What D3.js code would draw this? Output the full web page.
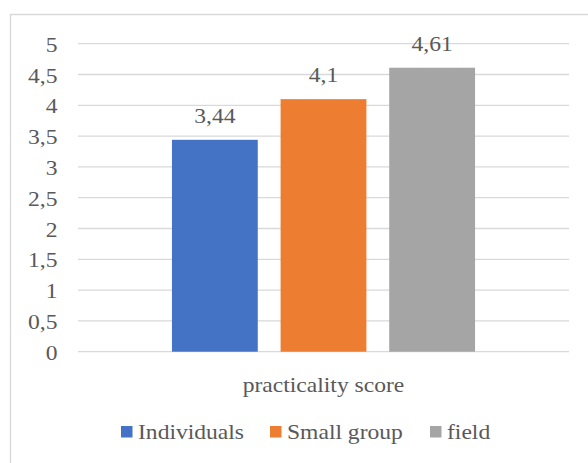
<!DOCTYPE html>
<html><head><meta charset="utf-8">
<script src="https://cdn.jsdelivr.net/npm/d3@7"></script>
<style>body{margin:0;background:#fff}svg{display:block}</style>
</head><body><svg id="c" width="588" height="463" style="font-family:'Liberation Serif',serif"></svg>
<script>
const categories = ["practicality score"];
const seriesNames = ["Individuals", "Small group", "field"];
const seriesValues = [3.44, 4.1, 4.61];
const valueLabels = ["3,44", "4,1", "4,61"];
const yTicks = [0, 0.5, 1, 1.5, 2, 2.5, 3, 3.5, 4, 4.5, 5];
const yTickLabels = ["0", "0,5", "1", "1,5", "2", "2,5", "3", "3,5", "4", "4,5", "5"];
const colors = ["#4472C4", "#ED7D31", "#A5A5A5"];

const svg = d3.select("#c");
const FS = 20.5, SX = 1.15, TXT = "#595959";
const plotL = 78, plotR = 569, plotT = 43.7, plotB = 351.7;

function txt(x, y, s, anchor) {
  return svg.append("text")
    .attr("transform", `translate(${x},${y}) scale(${SX},1)`)
    .attr("text-anchor", anchor)
    .style("font-family", "'Liberation Serif', serif")
    .style("font-size", FS + "px")
    .attr("fill", TXT)
    .text(s);
}

// chart border (cropped at right/bottom)
svg.append("path").attr("d", "M10.5,470 V14.5 H600")
  .attr("fill", "none").attr("stroke", "#d9d9d9").attr("stroke-width", 1.3);

const y = d3.scaleLinear().domain([0, 5]).range([plotB, plotT]);
const x0 = d3.scaleBand().domain(categories).range([plotL, plotR]).paddingInner(0).paddingOuter(0.31);
const x1 = d3.scaleBand().domain(seriesNames).range([0, x0.bandwidth()]).paddingInner(0.21).paddingOuter(0);

// gridlines
svg.append("g").selectAll("line").data(yTicks).join("line")
  .attr("x1", plotL).attr("x2", plotR)
  .attr("y1", d => y(d)).attr("y2", d => y(d))
  .attr("stroke", "#d9d9d9").attr("stroke-width", 1.3);

// y tick labels
yTicks.forEach((t, i) => txt(57.5, y(t) + 8, yTickLabels[i], "end"));

// bars
const g = svg.append("g").attr("transform", `translate(${x0(categories[0])},0)`);
g.selectAll("rect").data(seriesValues).join("rect")
  .attr("x", (d, i) => x1(seriesNames[i]))
  .attr("width", x1.bandwidth())
  .attr("y", d => y(d))
  .attr("height", d => y(0) - y(d))
  .attr("fill", (d, i) => colors[i]);

// value labels
seriesValues.forEach((v, i) => {
  txt(x0(categories[0]) + x1(seriesNames[i]) + x1.bandwidth() / 2, y(v) - 17, valueLabels[i], "middle");
});

// category label
txt(x0(categories[0]) + x0.bandwidth() / 2, 392, categories[0], "middle");

// legend
const legX = [121, 270, 430];
seriesNames.forEach((s, i) => {
  svg.append("rect").attr("x", legX[i]).attr("y", 426).attr("width", 11.5).attr("height", 11.5).attr("fill", colors[i]);
  txt(legX[i] + 17, 439, s, "start");
});
</script></body></html>
